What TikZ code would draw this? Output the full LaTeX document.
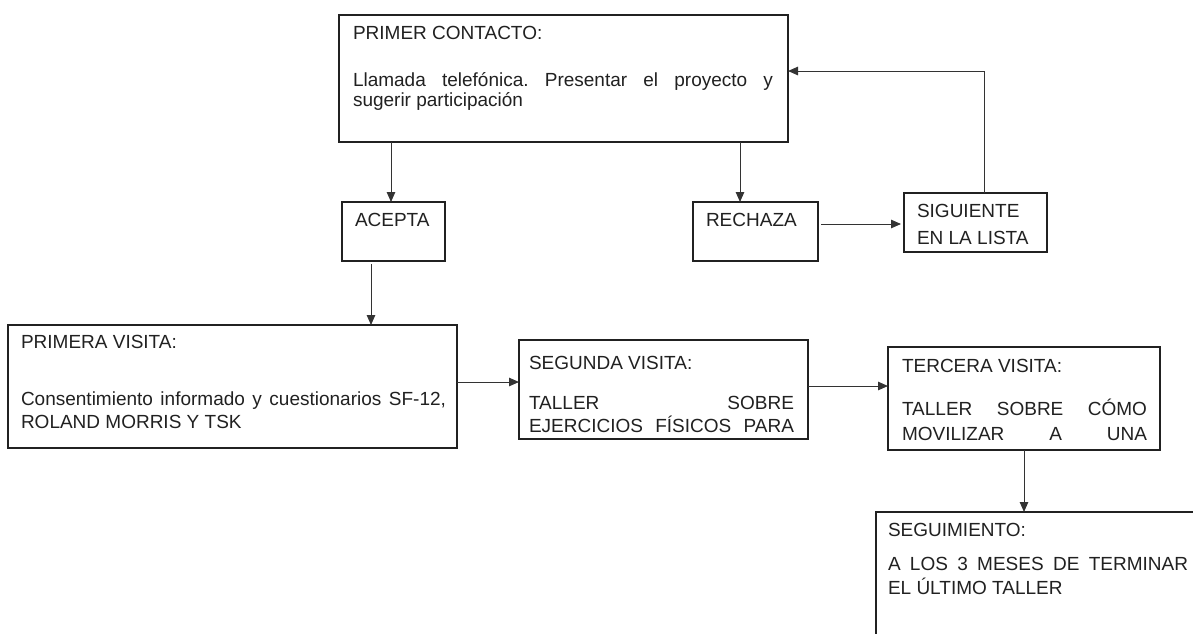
\documentclass[tikz,border=0pt]{standalone}
\usepackage{fontspec}
\setmainfont{Liberation Sans}
\usetikzlibrary{arrows.meta}
\definecolor{ink}{gray}{0.13}
\definecolor{edge}{gray}{0.2}
\frenchspacing
\tikzset{
  boxst/.style={draw=ink, line width=1.2pt, inner sep=0pt, outer sep=0pt, anchor=north west, fill=none},
  txt/.style={inner sep=0pt, outer sep=0pt, anchor=base west, text=ink, font=\fontsize{19pt}{23pt}\selectfont},
  conn/.style={draw=edge, line width=1pt, -{Triangle[length=10pt,width=8.5pt]}}
}
\begin{document}
\begin{tikzpicture}[x=1pt,y=-1pt]
\useasboundingbox (0,0) rectangle (1193,633);
\fill[white] (0,0) rectangle (1193,633);

% boxes
\node[boxst, minimum width=449pt, minimum height=127pt] (pc) at (339,15) {};
\node[boxst, minimum width=103pt, minimum height=59pt] (ac) at (342,202) {};
\node[boxst, minimum width=125pt, minimum height=59pt] (re) at (693,202) {};
\node[boxst, minimum width=143pt, minimum height=59pt] (si) at (904,193) {};
\node[boxst, minimum width=449pt, minimum height=123pt] (pv) at (8,325) {};
\node[boxst, minimum width=289pt, minimum height=99pt] (sv) at (519,340) {};
\node[boxst, minimum width=272pt, minimum height=103pt] (tv) at (888,347) {};
\begin{scope}
\clip (0,0) rectangle (1193,633);
\node[boxst, minimum width=340pt, minimum height=140pt] (sg) at (876,512) {};
\end{scope}

% texts
\node[txt] (pc1) at (353,39) {PRIMER CONTACTO:};
\node[txt] (pc2) at (353,86) {\makebox[420pt][s]{Llamada telefónica. Presentar el proyecto y}};
\node[txt] (pc3) at (353,106) {sugerir participación};

\node[txt] (ac1) at (355,226) {ACEPTA};
\node[txt] (re1) at (706,226) {RECHAZA};
\node[txt] (si1) at (917,217) {SIGUIENTE};
\node[txt] (si2) at (917,244) {EN LA LISTA};

\node[txt] (pv1) at (21,348) {PRIMERA VISITA:};
\node[txt] (pv2) at (21,405) {\makebox[425pt][s]{Consentimiento informado y cuestionarios SF-12,}};
\node[txt] (pv3) at (21,428) {ROLAND MORRIS Y TSK};

\node[txt] (sv1) at (529,369) {SEGUNDA VISITA:};
\node[txt] (sv2) at (529,409) {\makebox[265pt][s]{TALLER SOBRE}};
\node[txt] (sv3) at (529,432) {\makebox[265pt][s]{EJERCICIOS FÍSICOS PARA}};

\node[txt] (tv1) at (902,372) {TERCERA VISITA:};
\node[txt] (tv2) at (902,415) {\makebox[245pt][s]{TALLER SOBRE CÓMO}};
\node[txt] (tv3) at (902,440) {\makebox[245pt][s]{MOVILIZAR A UNA}};

\node[txt] (sg1) at (888,536) {SEGUIMIENTO:};
\node[txt] (sg2) at (888,570) {\makebox[300pt][s]{A LOS 3 MESES DE TERMINAR}};
\node[txt] (sg3) at (888,594) {EL ÚLTIMO TALLER};

% connectors
\coordinate (fb1) at (984,71);
\draw[conn] (pc.south -| 391,0) -- (ac.north -| 391,0);
\draw[conn] (pc.south -| 740,0) -- (re.north -| 740,0);
\draw[conn] ([xshift=3pt]re.east |- 0,224) -- ([xshift=-3pt]si.west |- 0,224);
\draw[conn] (si.north -| fb1) -- (fb1) -- (pc.east |- fb1);
\draw[conn] ([yshift=-3pt]ac.south -| 371,0) -- (pv.north -| 371,0);
\draw[conn] (pv.east |- 0,382) -- (sv.west |- 0,382);
\draw[conn] (sv.east |- 0,386) -- (tv.west |- 0,386);
\draw[conn] (tv.south -| 1024,0) -- (sg.north -| 1024,0);
\end{tikzpicture}
\end{document}
